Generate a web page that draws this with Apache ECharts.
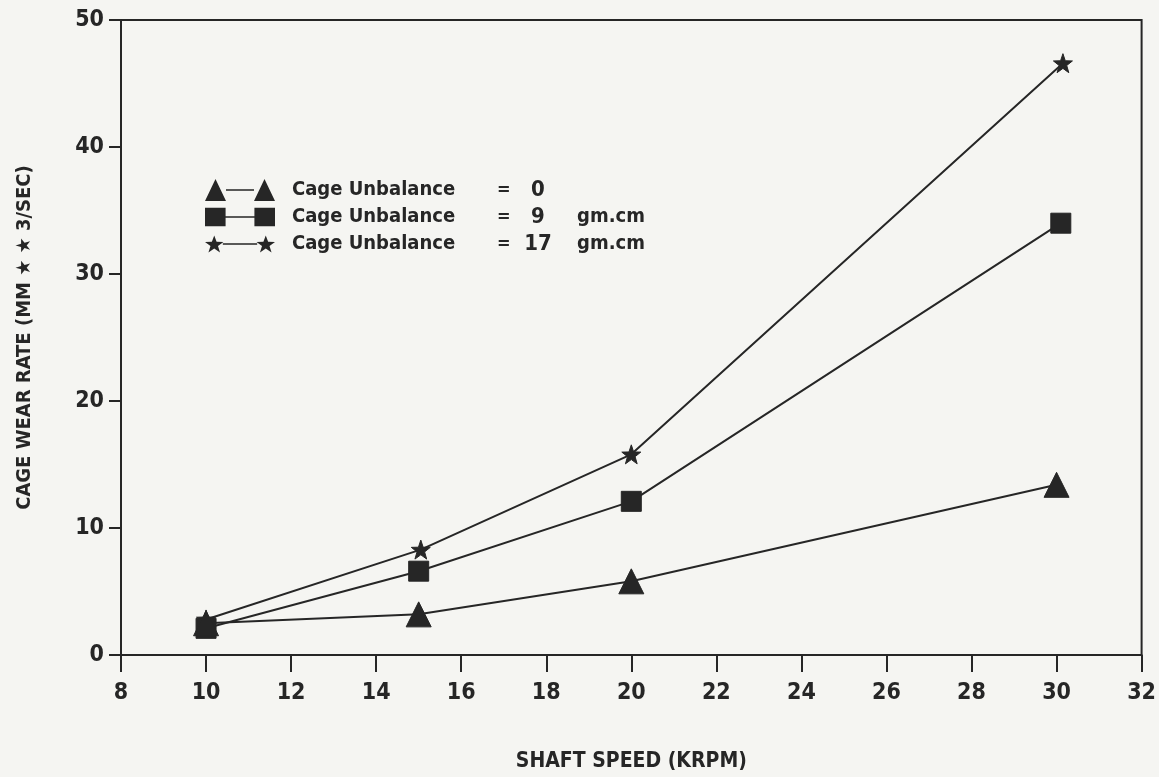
<!DOCTYPE html>
<html>
<head>
<meta charset="utf-8">
<script src="https://cdn.jsdelivr.net/npm/echarts@6/dist/echarts.min.js"></script>
<style>
html,body{margin:0;padding:0;background:#f5f5f2;}
#c{width:1159px;height:777px;}
</style>
</head>
<body>
<div id="c"></div>
<script>
// ---- data ----
const speedTicks = [8, 10, 12, 14, 16, 18, 20, 22, 24, 26, 28, 30, 32];
const wearTicks = [0, 10, 20, 30, 40, 50];
const seriesNames = ['Cage Unbalance = 0', 'Cage Unbalance = 9 gm.cm', 'Cage Unbalance = 17 gm.cm'];
const unbalanceValues = ['0', '9', '17'];
const unbalanceUnits = ['', 'gm.cm', 'gm.cm'];
const speed0 = [10, 15, 20, 30];
const wear0 = [2.5, 3.2, 5.8, 13.4];
const speed9 = [10, 15, 20, 30.1];
const wear9 = [2.1, 6.6, 12.1, 34.0];
const speed17 = [10, 15.05, 20, 30.15];
const wear17 = [2.8, 8.3, 15.8, 46.6];

const FONT = "'Liberation Sans Narrow', 'DejaVu Sans Condensed', 'Liberation Sans', sans-serif";
const INK = '#262626';

const starPath = 'path://M7,1 L8.65,5.73 L13.66,5.84 L9.66,8.87 L11.11,13.66 L7,10.8 L2.89,13.66 L4.34,8.87 L0.34,5.84 L5.35,5.73 Z';
const legendIcons = [
  'path://M0,22 L10.5,0 L21,22 Z M21,10.2 L49,10.2 L49,11.8 L21,11.8 Z M49,22 L59.5,0 L70,22 Z',
  'path://M0,2 H20 V20 H0 Z M20,10.2 H48 V11.8 H20 Z M48,2 H68 V20 H48 Z',
  'path://M9,3 L11.2,8.9 L17.6,9.1 L12.5,12.9 L14.4,19 L9,15.3 L3.6,19 L5.5,12.9 L0.4,9.1 L6.8,8.9 Z M17,10.4 L49,10.4 L49,11.6 L17,11.6 Z M57,3 L59.2,8.9 L65.6,9.1 L60.5,12.9 L62.4,19 L57,15.3 L51.6,19 L53.5,12.9 L48.4,9.1 L54.8,8.9 Z'
];
const symbols = ['triangle', 'rect', starPath];
const symbolSizes = [25, 20, 19];
const xs = [speed0, speed9, speed17];
const ys = [wear0, wear9, wear17];

const series = seriesNames.map((n, i) => ({
  name: n,
  type: 'line',
  data: xs[i].map((x, j) => [x, ys[i][j]]),
  symbol: symbols[i],
  symbolSize: symbolSizes[i],
  showAllSymbol: true,
  lineStyle: {color: INK, width: 2},
  itemStyle: {color: INK, borderColor: INK},
  emphasis: {disabled: true},
  z: 3 - i
}));

const chart = echarts.init(document.getElementById('c'), null, {renderer: 'canvas'});
chart.setOption({
  backgroundColor: '#f5f5f2',
  animation: false,
  grid: {left: 121, right: 14, top: 20, bottom: 113, show: true, borderColor: INK, borderWidth: 2, backgroundColor: 'transparent'},
  legend: {
    show: true,
    orient: 'vertical',
    left: 200,
    top: 174,
    itemWidth: 70,
    itemHeight: 23,
    itemGap: 5,
    selectedMode: false,
    data: seriesNames.map((n, i) => ({name: n, icon: legendIcons[i], itemStyle: {color: INK}})),
    formatter: function (name) {
      const i = seriesNames.indexOf(name);
      return '{a|Cage Unbalance}{b|=}{c|' + unbalanceValues[i] + '}{d|' + unbalanceUnits[i] + '}';
    },
    textStyle: {
      padding: [0, 0, 0, 12],
      rich: {
        a: {fontFamily: FONT, fontWeight: 'bold', fontSize: 20, color: INK, width: 205, lineHeight: 21},
        b: {fontFamily: FONT, fontWeight: 'bold', fontSize: 18, color: INK, width: 26, lineHeight: 21},
        c: {fontFamily: FONT, fontWeight: 'bold', fontSize: 22, color: INK, width: 30, align: 'center', lineHeight: 21},
        d: {fontFamily: FONT, fontWeight: 'bold', fontSize: 20, color: INK, padding: [0, 0, 0, 24], lineHeight: 21}
      }
    }
  },
  xAxis: {
    type: 'value',
    min: 8, max: 32, interval: 2,
    name: 'SHAFT SPEED (KRPM)',
    nameLocation: 'middle',
    nameGap: 96,
    nameTextStyle: {fontFamily: FONT, fontWeight: 'bold', fontSize: 21, color: INK},
    axisLine: {show: true, onZero: false, lineStyle: {color: INK, width: 2}},
    axisTick: {show: true, inside: false, length: 17, lineStyle: {color: INK, width: 2}},
    axisLabel: {fontFamily: FONT, fontWeight: 'bold', fontSize: 23, color: INK, margin: 27,
      formatter: v => speedTicks.includes(v) ? String(v) : ''},
    splitLine: {show: false}
  },
  yAxis: {
    type: 'value',
    min: 0, max: 50, interval: 10,
    name: 'CAGE WEAR RATE (MM \u2605 \u2605 3/SEC)',
    nameLocation: 'middle',
    nameGap: 86,
    nameRotate: 90,
    nameTextStyle: {fontFamily: FONT, fontWeight: 'bold', fontSize: 20, color: INK},
    axisLine: {show: true, onZero: false, lineStyle: {color: INK, width: 2}},
    axisTick: {show: true, length: 12, lineStyle: {color: INK, width: 2}},
    axisLabel: {fontFamily: FONT, fontWeight: 'bold', fontSize: 23, color: INK, margin: 17,
      formatter: v => wearTicks.includes(v) ? String(v) : ''},
    splitLine: {show: false}
  },
  series: series
});
</script>
</body>
</html>
